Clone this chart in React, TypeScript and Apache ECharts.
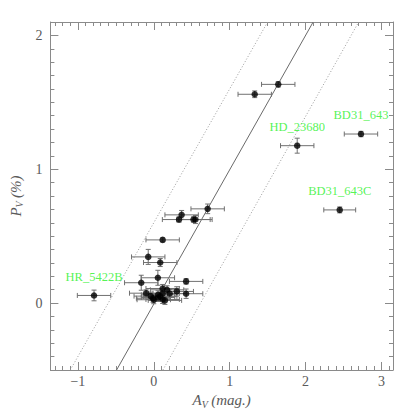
import React, { useEffect, useRef } from "react";
import * as echarts from "echarts";

// Extinction A_V (mag.)
const avValues = [1.64, 1.33, 2.73, 1.89, 2.45, 0.71, 0.367, 0.333, 0.523, 0.549, 0.117, -0.073, 0.085, 0.054, -0.165, 0.426, -0.787, -0.1, 0.117, 0.175, 0.303, 0.426, 0.21, 0.117, 0.056, -0.04, -0.009, 0.056, 0.117, 0.147, 0.0, 0.085];
// Polarization P_V (%)
const pvValues = [1.634, 1.56, 1.263, 1.176, 0.696, 0.704, 0.659, 0.624, 0.624, 0.624, 0.472, 0.345, 0.303, 0.189, 0.152, 0.162, 0.057, 0.074, 0.109, 0.099, 0.087, 0.07, 0.072, 0.072, 0.062, 0.052, 0.036, 0.042, 0.027, 0.02, 0.025, 0.05];
const avErrors = [0.22, 0.22, 0.22, 0.22, 0.21, 0.22, 0.22, 0.22, 0.22, 0.22, 0.22, 0.22, 0.22, 0.22, 0.22, 0.22, 0.22, 0.22, 0.22, 0.22, 0.22, 0.22, 0.22, 0.22, 0.22, 0.22, 0.22, 0.22, 0.22, 0.22, 0.22, 0.22];
const pvErrors = [0.02, 0.025, 0.02, 0.056, 0.022, 0.036, 0.033, 0.02, 0.02, 0.03, 0.015, 0.056, 0.03, 0.056, 0.056, 0.02, 0.04, 0.025, 0.03, 0.03, 0.035, 0.035, 0.03, 0.03, 0.03, 0.03, 0.03, 0.03, 0.03, 0.03, 0.03, 0.03];
const starNames = ["", "", "BD31_643", "HD_23680", "BD31_643C", "", "", "", "", "", "", "", "", "", "", "", "HR_5422B", "", "", "", "", "", "", "", "", "", "", "", "", "", "", ""];

// Reference lines (endpoints)
const solidLine = [[-0.49, -0.5], [2.1, 2.1]];
const dottedLeft = [[-1.1, -0.5], [1.5, 2.1]];
const dottedRight = [[0.12, -0.5], [2.7, 2.1]];

// Axes
const xRange = [-1.362, 3.152];
const yRange = [-0.5, 2.1];
const xMajorTicks = [-1, 0, 1, 2, 3];
const yMajorTicks = [0, 1, 2];
const xMinorTicks: number[] = [];
for (let i = -13; i <= 31; i++) xMinorTicks.push(i / 10);
const yMinorTicks: number[] = [];
for (let i = -5; i <= 21; i++) yMinorTicks.push(i / 10);

const FONT = "Liberation Serif";
const FRAME = "#8a8a8a";
const TXT = "#5a5a5a";

const fmt = (v: number) => (v < 0 ? "\u2212" + Math.abs(v) : String(v));

function makeAxis(kind: "x" | "y", position: string, major: boolean, withLabels: boolean, extra: any = {}) {
  const range = kind === "x" ? xRange : yRange;
  return {
    type: "value",
    position,
    min: range[0],
    max: range[1],
    splitLine: { show: false },
    axisLine: { show: major, onZero: false, lineStyle: { color: FRAME, width: 1 } },
    axisTick: {
      show: true,
      inside: true,
      length: major ? 8 : 4,
      lineStyle: { color: FRAME, width: 1 },
      customValues: major ? (kind === "x" ? xMajorTicks : yMajorTicks) : kind === "x" ? xMinorTicks : yMinorTicks,
    },
    axisLabel: withLabels
      ? {
          show: true,
          customValues: kind === "x" ? xMajorTicks : yMajorTicks,
          formatter: fmt,
          fontFamily: FONT,
          fontSize: 14,
          color: TXT,
          margin: kind === "x" ? 4 : 8,
        }
      : { show: false },
    ...extra,
  };
}

export default function App() {
  const ref = useRef<HTMLDivElement>(null);
  useEffect(() => {
    const chart = echarts.init(ref.current!, null, { renderer: "svg" });
    const pointData = avValues.map((x, i) => ({ value: [x, pvValues[i]], name: starNames[i] }));
    const errData = avValues.map((x, i) => [x, pvValues[i], avErrors[i], pvErrors[i]]);
    const nameRich = {
      a: { fontFamily: FONT, fontStyle: "italic", fontSize: 15, color: TXT, lineHeight: 18 },
      s: { fontFamily: FONT, fontStyle: "italic", fontSize: 10, color: TXT, lineHeight: 10, verticalAlign: "bottom" },
    };
    chart.setOption({
      animation: false,
      backgroundColor: "#ffffff",
      grid: { left: 45, right: 22, top: 22, bottom: 45 },
      xAxis: [
        makeAxis("x", "bottom", true, true, {
          name: "{a|A}{s|V} {a|(mag.)}",
          nameLocation: "middle",
          nameGap: 16,
          nameTextStyle: { rich: nameRich },
        }),
        makeAxis("x", "bottom", false, false),
        makeAxis("x", "top", true, false),
        makeAxis("x", "top", false, false),
      ],
      yAxis: [
        makeAxis("y", "left", true, true, {
          name: "{a|P}{s|V} {a|(%)}",
          nameLocation: "middle",
          nameGap: 23,
          nameTextStyle: { rich: nameRich },
        }),
        makeAxis("y", "left", false, false),
        makeAxis("y", "right", true, false),
        makeAxis("y", "right", false, false),
      ],
      series: [
        {
          type: "line",
          data: dottedLeft,
          symbol: "none",
          lineStyle: { color: "#9a9a9a", width: 1, type: [1, 2] },
          z: 1,
        },
        {
          type: "line",
          data: dottedRight,
          symbol: "none",
          lineStyle: { color: "#9a9a9a", width: 1, type: [1, 2] },
          z: 1,
        },
        {
          type: "line",
          data: solidLine,
          symbol: "none",
          lineStyle: { color: "#6a6a6a", width: 1 },
          z: 1,
        },
        {
          type: "custom",
          data: errData,
          encode: { x: 0, y: 1 },
          z: 2,
          renderItem: (params: any, api: any) => {
            const x = api.value(0);
            const y = api.value(1);
            const ex = api.value(2);
            const ey = api.value(3);
            const l = api.coord([x - ex, y]);
            const r = api.coord([x + ex, y]);
            const b = api.coord([x, y - ey]);
            const t = api.coord([x, y + ey]);
            const c = 2.5;
            const style = { stroke: "#707070", lineWidth: 1, fill: null };
            return {
              type: "group",
              children: [
                { type: "line", shape: { x1: l[0], y1: l[1], x2: r[0], y2: r[1] }, style },
                { type: "line", shape: { x1: l[0], y1: l[1] - c, x2: l[0], y2: l[1] + c }, style },
                { type: "line", shape: { x1: r[0], y1: r[1] - c, x2: r[0], y2: r[1] + c }, style },
                { type: "line", shape: { x1: b[0], y1: b[1], x2: t[0], y2: t[1] }, style },
                { type: "line", shape: { x1: b[0] - c, y1: b[1], x2: b[0] + c, y2: b[1] }, style },
                { type: "line", shape: { x1: t[0] - c, y1: t[1], x2: t[0] + c, y2: t[1] }, style },
              ],
            };
          },
        },
        {
          type: "scatter",
          data: pointData,
          symbol: "circle",
          symbolSize: 6.5,
          itemStyle: { color: "#000000" },
          z: 3,
          label: {
            show: true,
            position: "top",
            distance: 9,
            formatter: (p: any) => p.name || "",
            fontFamily: FONT,
            fontSize: 12.5,
            color: "#2af02a",
          },
        },
      ],
    });
    return () => chart.dispose();
  }, []);
  return <div ref={ref} style={{ position: "absolute", left: 0, top: 0, width: 415, height: 415 }} />;
}
